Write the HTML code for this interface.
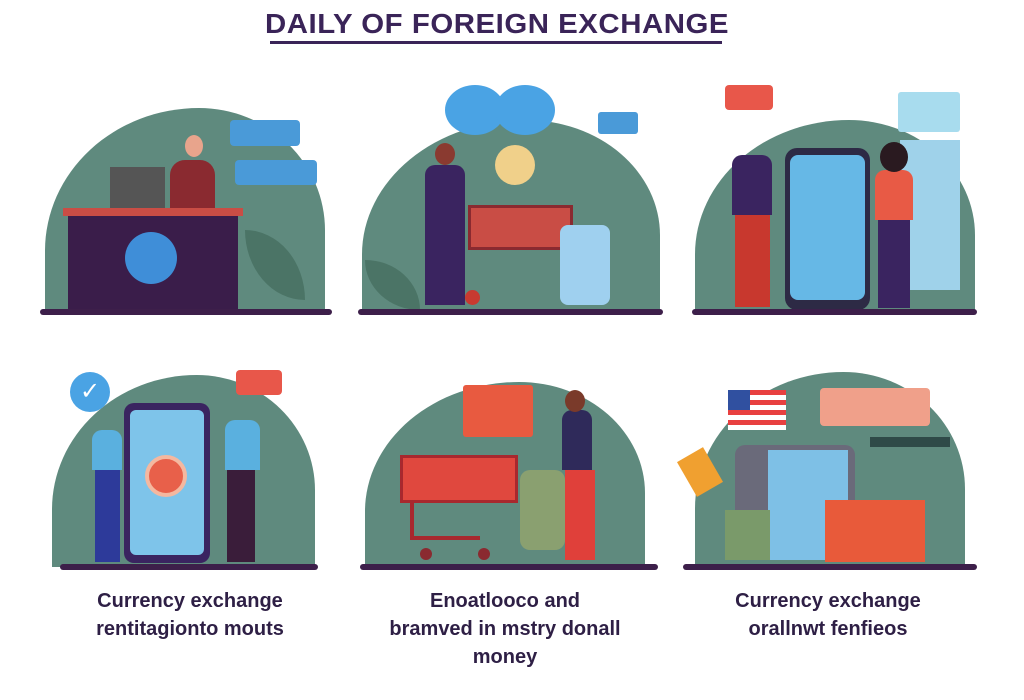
<!DOCTYPE html>
<html><head><meta charset="utf-8"><style>
*{margin:0;padding:0;box-sizing:border-box}
body{width:1024px;height:700px;background:#fff;position:relative;overflow:hidden;font-family:"Liberation Sans",sans-serif}
.a{position:absolute}
.blob{position:absolute;background:#5f8a7e;border-radius:55% 45% 0 0/70% 60% 0 0}
.g{position:absolute;height:6px;background:#3d1f4a;border-radius:3px}
.cap{position:absolute;width:320px;text-align:center;color:#2e1f45;font-weight:bold;font-size:20px;line-height:28px}
.leaf{position:absolute;background:#4b7466;border-radius:0 100% 0 100%}
</style></head><body>
<div class="a" style="left:0;top:8px;width:994px;text-align:center;font-weight:bold;font-size:28px;letter-spacing:0.5px;color:#3a2458;transform:scaleX(1.05)">DAILY OF FOREIGN EXCHANGE</div>
<div class="a" style="left:270px;top:41px;width:452px;height:3px;background:#3a2458"></div>

<!-- panel1 -->
<div class="blob" style="left:45px;top:108px;width:280px;height:204px"></div>
<div class="leaf" style="left:245px;top:230px;width:60px;height:70px"></div>
<div class="a" style="left:110px;top:167px;width:55px;height:42px;background:#555"></div>
<div class="a" style="left:170px;top:160px;width:45px;height:50px;background:#8a2a30;border-radius:15px 15px 0 0"></div>
<div class="a" style="left:185px;top:135px;width:18px;height:22px;background:#e8a48c;border-radius:50%"></div>
<div class="a" style="left:63px;top:208px;width:180px;height:8px;background:#c94d45"></div>
<div class="a" style="left:68px;top:216px;width:170px;height:95px;background:#3a1d4a"></div>
<div class="a" style="left:125px;top:232px;width:52px;height:52px;background:#3f8ed8;border-radius:50%"></div>
<div class="a" style="left:230px;top:120px;width:70px;height:26px;background:#4a9ad8;border-radius:4px"></div>
<div class="a" style="left:235px;top:160px;width:82px;height:25px;background:#4a9ad8;border-radius:4px"></div>
<div class="g" style="left:40px;top:309px;width:292px"></div>

<!-- panel2 -->
<div class="blob" style="left:362px;top:120px;width:298px;height:192px"></div>
<div class="leaf" style="left:365px;top:260px;width:55px;height:50px"></div>
<div class="a" style="left:445px;top:85px;width:60px;height:50px;background:#4aa3e4;border-radius:50%"></div>
<div class="a" style="left:495px;top:85px;width:60px;height:50px;background:#4aa3e4;border-radius:50%"></div>
<div class="a" style="left:598px;top:112px;width:40px;height:22px;background:#4a9ad8;border-radius:3px"></div>
<div class="a" style="left:495px;top:145px;width:40px;height:40px;background:#f0d08a;border-radius:50%"></div>
<div class="a" style="left:425px;top:165px;width:40px;height:140px;background:#3a2460;border-radius:10px 10px 0 0"></div>
<div class="a" style="left:435px;top:143px;width:20px;height:22px;background:#8a3a30;border-radius:50%"></div>
<div class="a" style="left:468px;top:205px;width:105px;height:45px;background:#c94d45;border:3px solid #8a2a30"></div>
<div class="a" style="left:465px;top:290px;width:15px;height:15px;background:#c83a30;border-radius:50%"></div>
<div class="a" style="left:560px;top:225px;width:50px;height:80px;background:#9fd0ef;border-radius:8px"></div>
<div class="g" style="left:358px;top:309px;width:305px"></div>

<!-- panel3 -->
<div class="blob" style="left:695px;top:120px;width:280px;height:192px"></div>
<div class="a" style="left:898px;top:92px;width:62px;height:40px;background:#a8dcee;border-radius:3px"></div>
<div class="a" style="left:900px;top:140px;width:60px;height:150px;background:#9fd2ea"></div>
<div class="a" style="left:725px;top:85px;width:48px;height:25px;background:#e8574a;border-radius:4px"></div>
<div class="a" style="left:785px;top:148px;width:85px;height:162px;background:#2d2a45;border-radius:12px"></div>
<div class="a" style="left:790px;top:155px;width:75px;height:145px;background:#66b8e6;border-radius:8px"></div>
<div class="a" style="left:732px;top:155px;width:40px;height:60px;background:#3a2460;border-radius:10px 10px 0 0"></div>
<div class="a" style="left:735px;top:215px;width:35px;height:92px;background:#c8382e"></div>
<div class="a" style="left:875px;top:170px;width:38px;height:50px;background:#e85a45;border-radius:10px 10px 0 0"></div>
<div class="a" style="left:878px;top:220px;width:32px;height:88px;background:#3a2460"></div>
<div class="a" style="left:880px;top:142px;width:28px;height:30px;background:#2a1a20;border-radius:50%"></div>
<div class="g" style="left:692px;top:309px;width:285px"></div>

<!-- panel4 -->
<div class="blob" style="left:52px;top:375px;width:263px;height:192px"></div>
<div class="a" style="left:70px;top:372px;width:40px;height:40px;background:#4aa3e4;border-radius:50%;color:#fff;font-size:24px;text-align:center;line-height:40px">✓</div>
<div class="a" style="left:236px;top:370px;width:46px;height:25px;background:#e8574a;border-radius:4px"></div>
<div class="a" style="left:124px;top:403px;width:86px;height:160px;background:#3a2460;border-radius:10px"></div>
<div class="a" style="left:130px;top:410px;width:74px;height:145px;background:#7ec4ea;border-radius:6px"></div>
<div class="a" style="left:145px;top:455px;width:42px;height:42px;background:#e8604a;border-radius:50%;border:4px solid #f4b8a0"></div>
<div class="a" style="left:92px;top:430px;width:30px;height:40px;background:#5ab0df;border-radius:10px 10px 0 0"></div>
<div class="a" style="left:95px;top:470px;width:25px;height:92px;background:#2d3a9a"></div>
<div class="a" style="left:225px;top:420px;width:35px;height:50px;background:#5ab0df;border-radius:10px 10px 0 0"></div>
<div class="a" style="left:227px;top:470px;width:28px;height:92px;background:#3a1d3a"></div>
<div class="g" style="left:60px;top:564px;width:258px"></div>

<!-- panel5 -->
<div class="blob" style="left:365px;top:382px;width:280px;height:185px"></div>
<div class="a" style="left:463px;top:385px;width:70px;height:52px;background:#e85a40;border-radius:3px"></div>
<div class="a" style="left:400px;top:455px;width:118px;height:48px;background:#e0483e;border:3px solid #a8282e"></div>
<div class="a" style="left:410px;top:500px;width:70px;height:40px;border-left:4px solid #a8282e;border-bottom:4px solid #a8282e"></div>
<div class="a" style="left:420px;top:548px;width:12px;height:12px;background:#8a2a30;border-radius:50%"></div>
<div class="a" style="left:478px;top:548px;width:12px;height:12px;background:#8a2a30;border-radius:50%"></div>
<div class="a" style="left:520px;top:470px;width:45px;height:80px;background:#8aa070;border-radius:10px"></div>
<div class="a" style="left:562px;top:410px;width:30px;height:60px;background:#2f2a5a;border-radius:10px 10px 0 0"></div>
<div class="a" style="left:565px;top:470px;width:30px;height:90px;background:#e0403a"></div>
<div class="a" style="left:565px;top:390px;width:20px;height:22px;background:#7a3a2a;border-radius:50%"></div>
<div class="g" style="left:360px;top:564px;width:298px"></div>

<!-- panel6 -->
<div class="blob" style="left:695px;top:372px;width:270px;height:195px"></div>
<div class="a" style="left:728px;top:390px;width:58px;height:40px;background:repeating-linear-gradient(#e84040 0 5px,#fff 5px 10px)"></div>
<div class="a" style="left:728px;top:390px;width:22px;height:20px;background:#3050a0"></div>
<div class="a" style="left:820px;top:388px;width:110px;height:38px;background:#f0a08a;border-radius:4px"></div>
<div class="a" style="left:870px;top:437px;width:80px;height:10px;background:#2f4a48"></div>
<div class="a" style="left:735px;top:445px;width:120px;height:115px;background:#6a6a7a;border-radius:10px"></div>
<div class="a" style="left:768px;top:450px;width:80px;height:110px;background:#7ec0e6"></div>
<div class="a" style="left:825px;top:500px;width:100px;height:62px;background:#e85a3a"></div>
<div class="a" style="left:725px;top:510px;width:45px;height:50px;background:#7a9a6a"></div>
<div class="a" style="left:685px;top:452px;width:30px;height:40px;background:#f0a030;transform:rotate(-30deg)"></div>
<div class="g" style="left:683px;top:564px;width:294px"></div>

<div class="cap" style="left:30px;top:587px">Currency exchange<br>rentitagionto mouts</div>
<div class="cap" style="left:345px;top:587px">Enoatlooco and<br>bramved in mstry donall<br>money</div>
<div class="cap" style="left:668px;top:587px">Currency exchange<br>orallnwt fenfieos</div>
</body></html>
